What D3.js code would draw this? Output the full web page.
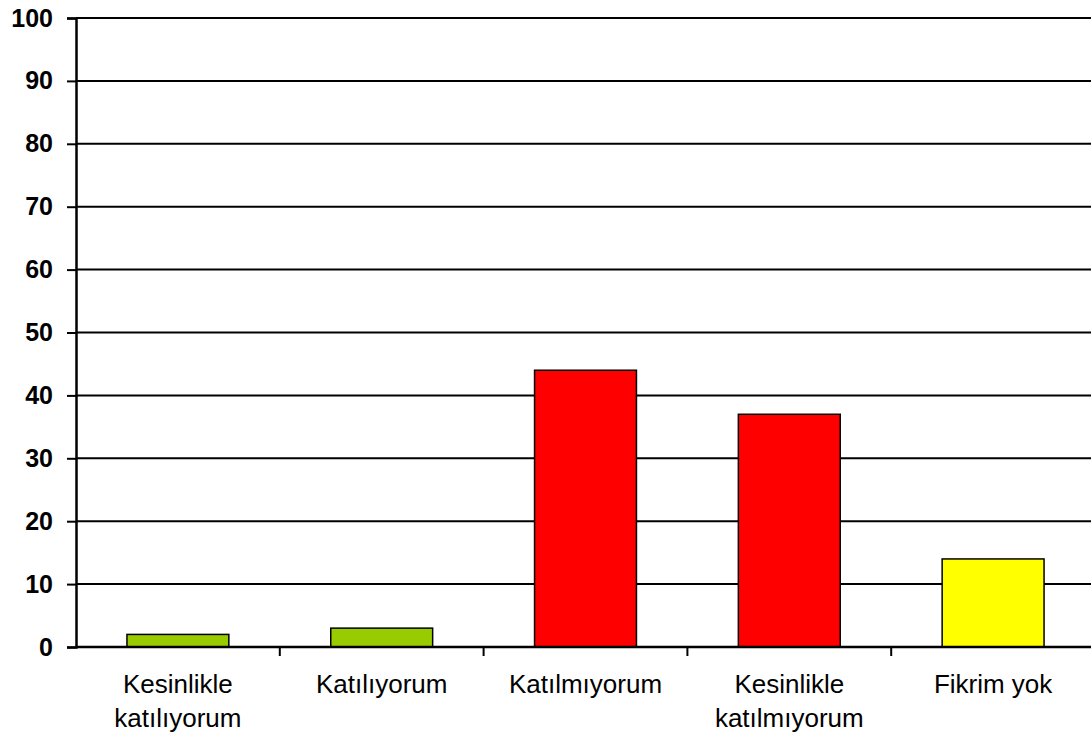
<!DOCTYPE html>
<html><head><meta charset="utf-8">
<script src="https://cdn.jsdelivr.net/npm/d3@7"></script>
<style>body{margin:0;background:#fff;}svg{display:block;}</style>
</head><body>
<script>
const categories = [["Kesinlikle","katılıyorum"],["Katılıyorum"],["Katılmıyorum"],["Kesinlikle","katılmıyorum"],["Fikrim yok"]];
const values = [2, 3, 44, 37, 14];
const colors = ["#99cc00", "#99cc00", "#ff0000", "#ff0000", "#ffff00"];
const yTicks = [0,10,20,30,40,50,60,70,80,90,100];

(function(){
const W = 1091, H = 736;
const mLeft = 76, mRight = 1095, mTop = 18, mBottom = 647;
const svg = d3.select("body").append("svg").attr("width", W).attr("height", H);

const x = d3.scaleBand().domain(d3.range(categories.length)).range([mLeft, mRight]).paddingInner(0.5).paddingOuter(0.25);
const y = d3.scaleLinear().domain([0, 100]).range([mBottom, mTop]);

// gridlines
svg.append("g").selectAll("line").data(yTicks.filter(d => d > 0)).join("line")
  .attr("x1", mLeft).attr("x2", W).attr("y1", d => y(d)).attr("y2", d => y(d))
  .attr("stroke", "#000").attr("stroke-width", 2);

// bars
svg.append("g").selectAll("rect").data(values).join("rect")
  .attr("x", (d, i) => x(i)).attr("y", d => y(d))
  .attr("width", x.bandwidth()).attr("height", d => mBottom - y(d))
  .attr("fill", (d, i) => colors[i]).attr("stroke", "#000").attr("stroke-width", 1.5);

// y axis
const yAxis = d3.axisLeft(y).tickValues(yTicks).tickSize(9).tickPadding(14);
const gy = svg.append("g").attr("transform", `translate(${mLeft},0)`).call(yAxis);
gy.select(".domain").attr("stroke", "#000").attr("stroke-width", 2.5);
gy.selectAll(".tick line").attr("stroke", "#000").attr("stroke-width", 2);
gy.selectAll(".tick text").attr("font-family", "Liberation Sans, Arial, sans-serif")
  .attr("font-size", 25).attr("font-weight", "bold").attr("fill", "#000");

// x axis
const xb = d3.scaleLinear().domain([0, categories.length]).range([mLeft, mRight]);
svg.append("line").attr("x1", mLeft).attr("x2", W).attr("y1", mBottom).attr("y2", mBottom)
  .attr("stroke", "#000").attr("stroke-width", 2.5);
svg.append("g").selectAll("line").data(d3.range(1, categories.length)).join("line")
  .attr("x1", d => xb(d)).attr("x2", d => xb(d)).attr("y1", mBottom).attr("y2", mBottom + 9)
  .attr("stroke", "#000").attr("stroke-width", 2);

const lab = svg.append("g").selectAll("text").data(categories).join("text")
  .attr("text-anchor", "middle")
  .attr("font-family", "Liberation Sans, Arial, sans-serif")
  .attr("font-size", 26).attr("fill", "#000")
  .attr("transform", (d, i) => `translate(${x(i) + x.bandwidth() / 2},${mBottom + 46})`);
lab.selectAll("tspan").data(d => d).join("tspan")
  .attr("x", 0).attr("y", (d, j) => j * 34).text(d => d);
})();
</script>
</body></html>
